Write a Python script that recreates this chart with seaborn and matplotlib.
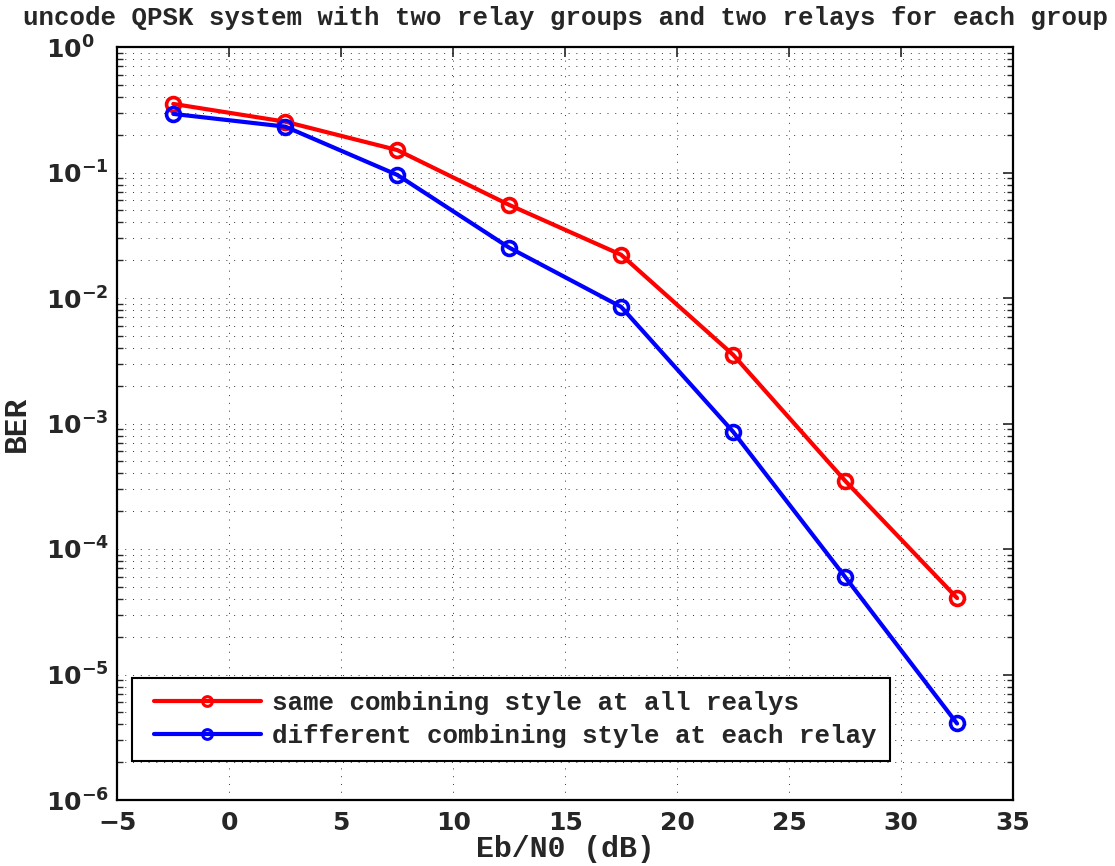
import matplotlib
matplotlib.use("Agg")
import matplotlib.pyplot as plt
import matplotlib.ticker as mticker
from matplotlib.legend_handler import HandlerLine2D
import numpy as np
import pandas as pd
import seaborn as sns

# ---- data ----
snr_db = [-2.5, 2.5, 7.5, 12.5, 17.5, 22.5, 27.5, 32.5]
ber_same = [0.352, 0.254, 0.151, 0.0552, 0.0221, 0.00353, 0.00035, 4.07e-5]
ber_diff = [0.293, 0.232, 0.0957, 0.0252, 0.0085, 0.00086, 6.0e-5, 4.07e-6]
label_same = "same combining style at all realys"
label_diff = "different combining style at each relay"
title = "uncode QPSK system with two relay groups and two relays for each group"
xlabel = "Eb/N0 (dB)"
ylabel = "BER"
xticks = [-5, 0, 5, 10, 15, 20, 25, 30, 35]

sns.set_theme(style="white")
plt.rcParams["font.family"] = ["DejaVu Sans"]
plt.rcParams["mathtext.fontset"] = "custom"
plt.rcParams["mathtext.rm"] = "DejaVu Sans:bold"
plt.rcParams["mathtext.it"] = "DejaVu Sans:bold"
plt.rcParams["mathtext.bf"] = "DejaVu Sans:bold"

df_same = pd.DataFrame({"snr": snr_db, "ber": ber_same})
df_diff = pd.DataFrame({"snr": snr_db, "ber": ber_diff})

fig = plt.figure(figsize=(11.15, 8.66), dpi=100)
ax = fig.add_axes([117.3 / 1115, 1 - 800 / 866, (1013 - 117.3) / 1115, (800 - 47) / 866])

for d, c, lab in [(df_same, "#ff0000", label_same), (df_diff, "#0000ff", label_diff)]:
    sns.lineplot(data=d, x="snr", y="ber", ax=ax, color=c, label=lab,
                 linewidth=3, marker="o", markersize=10, markerfacecolor="none",
                 markeredgecolor=c, markeredgewidth=2.6)

ax.set_yscale("log")
ax.set_xlim(-5, 35)
ax.set_ylim(1e-6, 1)
ax.set_xticks(xticks)
ax.yaxis.set_major_locator(mticker.LogLocator(base=10, numticks=10))
ax.yaxis.set_minor_locator(mticker.LogLocator(base=10, subs=np.arange(2, 10), numticks=100))
ax.yaxis.set_major_formatter(mticker.FuncFormatter(lambda v, p: r"$\mathrm{10^{%d}}$" % int(round(np.log10(v)))))
ax.yaxis.set_minor_formatter(mticker.NullFormatter())

ax.tick_params(axis="both", which="major", direction="in", length=7, width=1.2,
               top=True, right=True, labelsize=18)
ax.tick_params(axis="x", which="major", pad=8)
ax.tick_params(axis="y", which="major", pad=51)
ax.tick_params(axis="y", which="minor", direction="in", length=4, width=1.0,
               left=True, right=True)
for lab in ax.get_xticklabels():
    lab.set_fontweight("bold")
for lab in ax.get_yticklabels():
    lab.set_horizontalalignment("left")

grid_kw = dict(color="#333333", linestyle=(0, (1, 7)), linewidth=0.7)
ax.grid(True, which="major", axis="both", **grid_kw)
ax.grid(True, which="minor", axis="y", **grid_kw)

for s in ax.spines.values():
    s.set_linewidth(1.6)
    s.set_color("black")

mono = {"family": ["Liberation Mono", "DejaVu Sans Mono"], "weight": "bold"}
ax.set_title(title, fontdict=dict(mono, size=18.5), pad=16)
ax.set_xlabel(xlabel, fontdict=dict(mono, size=21.5), labelpad=0)
ax.set_ylabel(ylabel, fontdict=dict(mono, size=22.5))
ax.yaxis.set_label_coords(-0.0952, 0.5)

fs = 18.6
leg = ax.legend(loc="lower left", bbox_to_anchor=(0.0164, 0.052), borderaxespad=0,
                prop=dict(family=["Liberation Mono"], weight="bold", size=fs),
                handlelength=4.48, handletextpad=0.45, borderpad=0.5, labelspacing=0.35,
                fancybox=False, framealpha=1, edgecolor="black",
                handler_map={matplotlib.lines.Line2D: HandlerLine2D(xpad=0.35)})
leg.get_frame().set_linewidth(1.5)
for h in leg.legend_handles:
    h.set_markersize(7)
    h.set_markeredgewidth(2.2)

fig.savefig("out.png", dpi=100)
